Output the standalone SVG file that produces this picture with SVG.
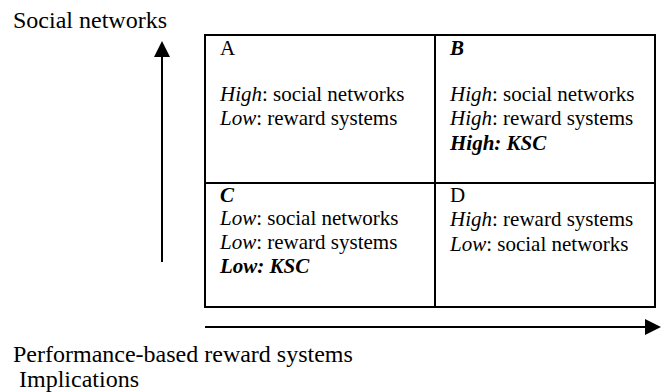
<svg xmlns="http://www.w3.org/2000/svg" width="662" height="392" viewBox="0 0 662 392">
<style>
text{font-family:"Liberation Serif","Times New Roman",serif;fill:#000}
.lbl{font-size:24px}
.cell{font-size:21px}
.i{font-style:italic}
.bi{font-style:italic;font-weight:bold}
.ln{stroke:#000;stroke-width:2;fill:none}
.head{fill:#000}
</style>
<g id="axis-labels">
<text class="lbl" x="13" y="28">Social networks</text>
<text class="lbl" x="13" y="362">Performance-based reward systems</text>
<text class="lbl" x="19" y="387">Implications</text>
</g>
<g id="connectors">
<line class="ln" x1="162" y1="262" x2="162" y2="56"/>
<path class="head" d="M162,41 L170,57 L154,57 Z"/>
<line class="ln" x1="205" y1="327" x2="646" y2="327"/>
<path class="head" d="M661,327 L645,319 L645,335 Z"/>
</g>
<g id="grid">
<rect class="ln" x="205" y="35" width="450" height="272"/>
<line class="ln" x1="435" y1="35" x2="435" y2="307"/>
<line class="ln" x1="205" y1="183" x2="655" y2="183"/>
</g>
<g id="cell-A">
<text class="cell" x="220" y="55">A</text>
<text class="cell" x="220" y="101"><tspan class="i">High</tspan>: social networks</text>
<text class="cell" x="220" y="125"><tspan class="i">Low</tspan>: reward systems</text>
</g>
<g id="cell-B">
<text class="cell bi" x="450" y="55">B</text>
<text class="cell" x="450" y="101"><tspan class="i">High</tspan>: social networks</text>
<text class="cell" x="450" y="125"><tspan class="i">High</tspan>: reward systems</text>
<text class="cell bi" x="450" y="150">High: KSC</text>
</g>
<g id="cell-C">
<text class="cell bi" x="220" y="202">C</text>
<text class="cell" x="220" y="225"><tspan class="i">Low</tspan>: social networks</text>
<text class="cell" x="220" y="249"><tspan class="i">Low</tspan>: reward systems</text>
<text class="cell bi" x="220" y="273">Low: KSC</text>
</g>
<g id="cell-D">
<text class="cell" x="450" y="202">D</text>
<text class="cell" x="450" y="226"><tspan class="i">High</tspan>: reward systems</text>
<text class="cell" x="450" y="251"><tspan class="i">Low</tspan>: social networks</text>
</g>
</svg>
